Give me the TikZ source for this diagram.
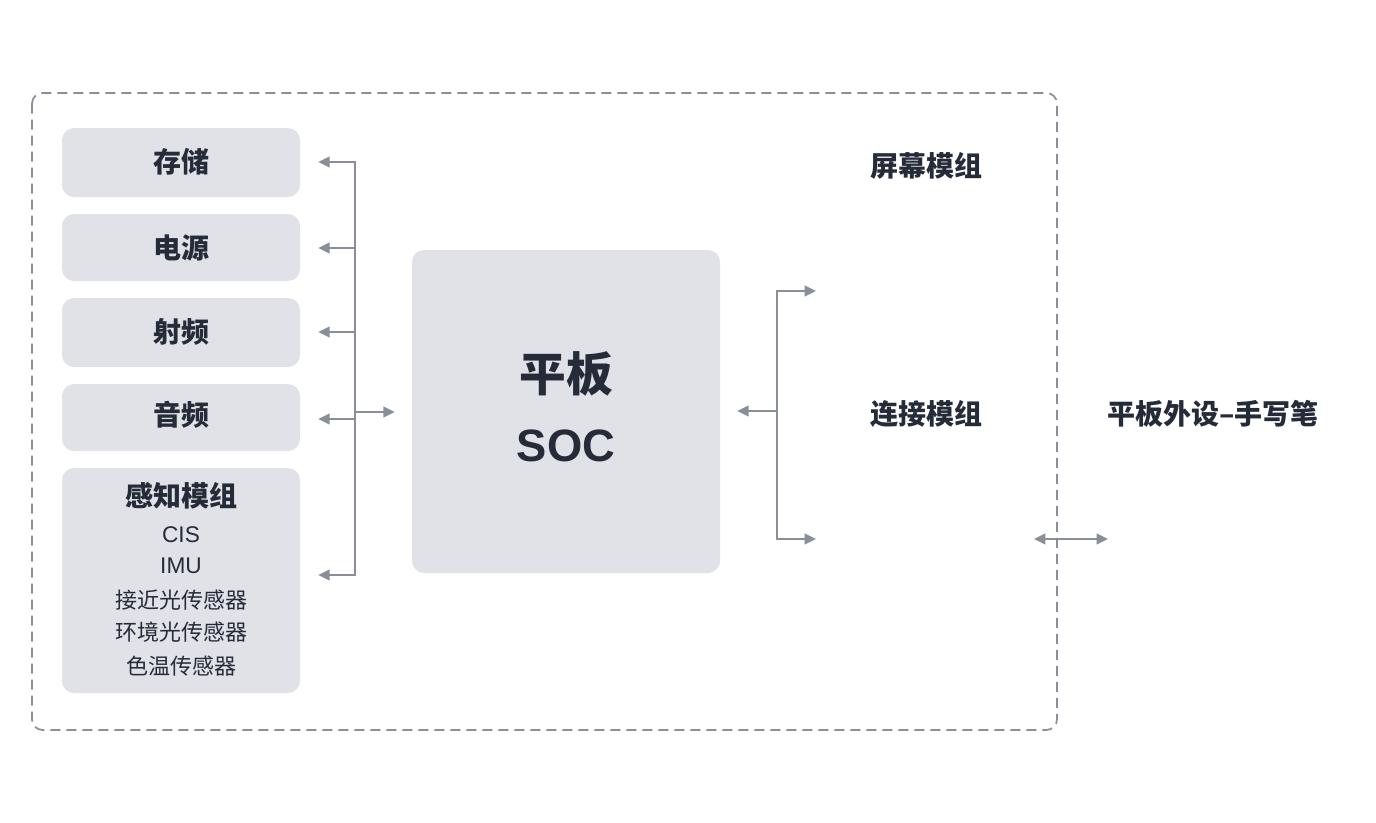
\documentclass[tikz,border=0pt]{standalone}
\usepackage{fontspec}
\setmainfont{Noto Sans CJK SC}
\newfontfamily\latf{Liberation Sans}
\usetikzlibrary{arrows.meta}
\definecolor{boxfill}{HTML}{E1E2E7}
\definecolor{linec}{HTML}{8A8E99}
\definecolor{txt}{HTML}{262B3A}
\begin{document}
\begin{tikzpicture}[x=0.75pt,y=-0.75pt,
  blk/.style={fill=boxfill, rounded corners=9pt, inner sep=0pt, text=txt},
  lbl/.style={text=txt, inner sep=0pt, font=\fontsize{21}{25}\selectfont\bfseries},
  small/.style={text=txt, inner sep=0pt, font=\fontsize{16.5}{20}\selectfont},
  smalllat/.style={text=txt, inner sep=0pt, font=\fontsize{17}{20}\selectfont\latf},
  conn/.style={draw=linec, line width=1.5pt, -{Triangle[length=8.5pt,width=8pt]}},
  dconn/.style={draw=linec, line width=1.5pt, {Triangle[length=8.5pt,width=8pt]}-{Triangle[length=8.5pt,width=8pt]}},
  bus/.style={draw=linec, line width=1.5pt, line cap=rect},
  frame/.style={draw=linec, line width=1.3pt, dash pattern=on 7.5pt off 4.5pt, rounded corners=8pt}]
\path[use as bounding box] (0,0) rectangle (1376,822);

% outer dashed frame
\draw[frame] (32,93) rectangle (1057,730);

% left blocks
\node[blk, minimum width=238*0.75pt, minimum height=69*0.75pt] (s1) at (181,162.5) {};
\node[lbl] at (181,162) {存储};
\node[blk, minimum width=238*0.75pt, minimum height=67*0.75pt] (s2) at (181,247.5) {};
\node[lbl] at (181,248) {电源};
\node[blk, minimum width=238*0.75pt, minimum height=69*0.75pt] (s3) at (181,332.5) {};
\node[lbl] at (181,332) {射频};
\node[blk, minimum width=238*0.75pt, minimum height=67*0.75pt] (s4) at (181,417.5) {};
\node[lbl] at (181,415) {音频};
\node[blk, minimum width=238*0.75pt, minimum height=225*0.75pt] (s5) at (181,580.5) {};
\node[lbl] (t5) at (181,496) {感知模组};
\node[smalllat] (t6) at (181,535) {CIS};
\node[smalllat] (t7) at (181,566) {IMU};
\node[small] (t8) at (181,600) {接近光传感器};
\node[small] (t9) at (181,632) {环境光传感器};
\node[small] (t10) at (181,666) {色温传感器};

% SOC
\node[blk, minimum width=308*0.75pt, minimum height=323*0.75pt] (soc) at (566,411.5) {};
\node[text=txt, inner sep=0pt, font=\fontsize{35}{40}\selectfont\bfseries] at (566,374) {平板};
\node[text=txt, inner sep=0pt, font=\fontsize{34}{40}\selectfont\latf\bfseries] at (566,446) {SOC};

% right labels
\node[lbl] (screen) at (926,166) {屏幕模组};
\node[lbl] (link) at (926,414) {连接模组};
\node[lbl] (pen) at (1213,414) {平板外设–手写笔};

% left bus
\coordinate (b1) at (355,162);
\coordinate (b2) at (355,248);
\coordinate (b3) at (355,332);
\coordinate (b4) at (355,419);
\coordinate (b5) at (355,575);
\coordinate (bs) at (355,412);
\draw[bus] (b1) -- (b5);
\draw[conn, shorten >=18*0.75pt] (b1) -- (b1 -| s1.east);
\draw[conn, shorten >=18*0.75pt] (b2) -- (b2 -| s2.east);
\draw[conn, shorten >=18*0.75pt] (b3) -- (b3 -| s3.east);
\draw[conn, shorten >=18*0.75pt] (b4) -- (b4 -| s4.east);
\draw[conn, shorten >=18*0.75pt] (b5) -- (b5 -| s5.east);
\draw[conn, shorten >=17*0.75pt] (bs) -- (bs -| soc.west);

% right bus
\coordinate (r1) at (777,291);
\coordinate (r2) at (777,539);
\coordinate (rs) at (777,411);
\coordinate (e1) at (816,291);
\coordinate (e2) at (816,539);
\draw[bus] (r1) -- (r2);
\draw[conn] (r1) -- (e1);
\draw[conn] (r2) -- (e2);
\draw[conn, shorten >=17*0.75pt] (rs) -- (rs -| soc.east);

% pen link
\coordinate (p1) at (1034,539);
\coordinate (p2) at (1108,539);
\draw[dconn] (p1) -- (p2);
\end{tikzpicture}
\end{document}
